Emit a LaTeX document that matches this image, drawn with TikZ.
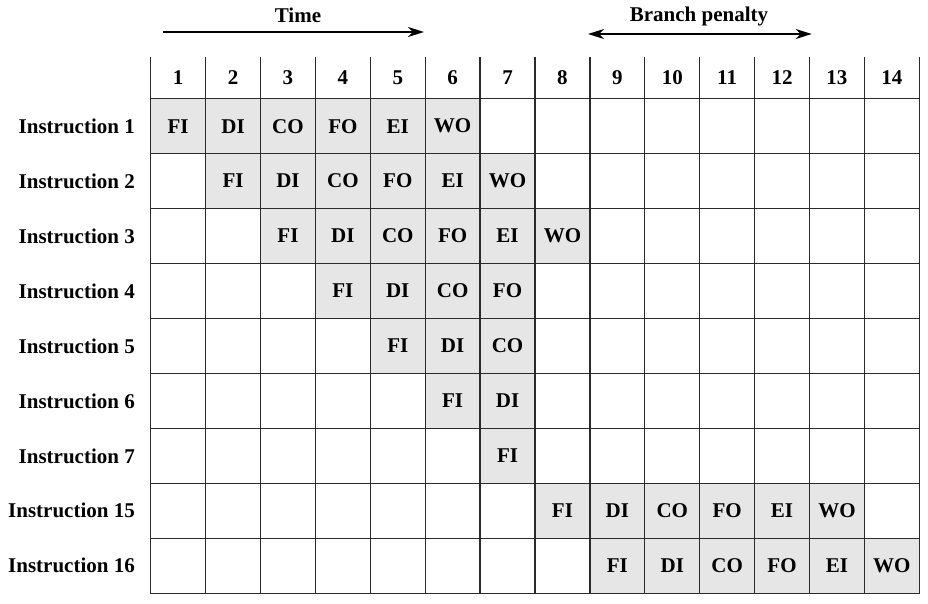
\documentclass[tikz,border=0pt]{standalone}
\usepackage{fontspec}
\setmainfont{Liberation Serif}
\usetikzlibrary{arrows.meta}
\definecolor{stagegray}{HTML}{E6E6E6}
\definecolor{linegray}{HTML}{2A2A2A}
\begin{document}
\begin{tikzpicture}[x=1pt,y=-1pt,
  lbl/.style={font=\fontsize{21}{25}\selectfont\bfseries, inner sep=0pt},
  cellbox/.style={lbl, minimum width=54.9pt, minimum height=54.95pt, anchor=center},
  stagebox/.style={cellbox, fill=stagegray},
  gridline/.style={draw=linegray, line width=1.3pt},
  timearrow/.style={draw=black, line width=1.8pt, -{Stealth[length=16pt,width=10pt,inset=5pt]}},
  penaltyarrow/.style={draw=black, line width=1.8pt, {Stealth[length=16pt,width=10pt,inset=5pt]}-{Stealth[length=16pt,width=10pt,inset=5pt]}}
]
\useasboundingbox (0,0) rectangle (928,604);
\def\xO{150.7}\def\cw{54.9}\def\yH{57.3}\def\yO{98.7}\def\rh{54.95}
% gray stage cells
\foreach \r/\first/\last in {1/1/6,2/2/7,3/3/8,4/4/7,5/5/7,6/6/7,7/7/7,8/8/13,9/9/14}{
  \foreach \c in {\first,...,\last}{
    \pgfmathtruncatemacro{\k}{\c-\first+1}
    \ifcase\k\or\def\st{FI}\or\def\st{DI}\or\def\st{CO}\or\def\st{FO}\or\def\st{EI}\or\def\st{WO}\fi
    \node[stagebox] (c-\r-\c) at ({\xO+(\c-0.5)*\cw},{\yO+(\r-0.5)*\rh}) {\st};
  }
}
% header numbers
\foreach \c in {1,...,14}{
  \node[lbl] (h-\c) at ({\xO+(\c-0.5)*\cw},{(\yH+\yO)/2}) {\c};
}
% row labels
\foreach \r/\t in {1/Instruction 1,2/Instruction 2,3/Instruction 3,4/Instruction 4,5/Instruction 5,6/Instruction 6,7/Instruction 7,8/Instruction 15,9/Instruction 16}{
  \node[lbl, anchor=east] (l-\r) at (135,{\yO+(\r-0.5)*\rh}) {\t};
}
% grid lines
\foreach \c in {0,...,14}{
  \draw[gridline] ({\xO+\c*\cw},\yH) -- ({\xO+\c*\cw},{\yO+9*\rh});
}
\foreach \r in {0,...,9}{
  \draw[gridline] (\xO-0.65,{\yO+\r*\rh}) -- ({\xO+14*\cw+0.65},{\yO+\r*\rh});
}
% arrows
\node[lbl] (time) at (298,15) {Time};
\coordinate (ts) at (162.7,32);
\coordinate (te) at (424,32);
\draw[timearrow] (ts) -- (te);
\node[lbl] (bp) at (699,16) {Branch penalty};
\coordinate (bs) at (588,34);
\coordinate (be) at (811.7,34);
\draw[penaltyarrow] (bs) -- (be);
\end{tikzpicture}
\end{document}
